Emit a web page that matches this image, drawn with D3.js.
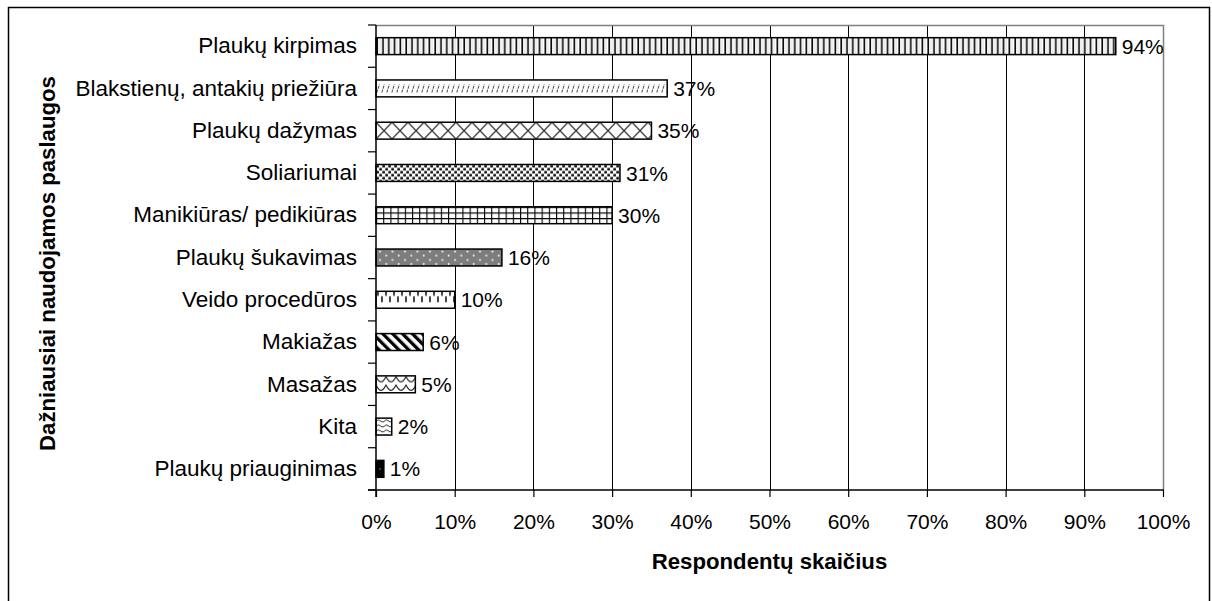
<!DOCTYPE html>
<html>
<head>
<meta charset="utf-8">
<script src="https://cdn.jsdelivr.net/npm/d3@7"></script>
<style>
  html, body { margin: 0; padding: 0; background: #fff; }
  svg { display: block; font-family: "Liberation Sans", Arial, sans-serif; }
</style>
</head>
<body>
<svg id="chart" width="1212" height="601"></svg>
<script>
// Services used most often, share of respondents (%)
const categories = [
  "Plaukų kirpimas",
  "Blakstienų, antakių priežiūra",
  "Plaukų dažymas",
  "Soliariumai",
  "Manikiūras/ pedikiūras",
  "Plaukų šukavimas",
  "Veido procedūros",
  "Makiažas",
  "Masažas",
  "Kita",
  "Plaukų priauginimas"
];
const values = [94, 37, 35, 31, 30, 16, 10, 6, 5, 2, 1];
const xTicks = [0, 10, 20, 30, 40, 50, 60, 70, 80, 90, 100];
const xTitle = "Respondentų skaičius";
const yTitle = "Dažniausiai naudojamos paslaugos";

const svg = d3.select("#chart");
const plot = { left: 376, right: 1163, top: 25, bottom: 490 };

const x = d3.scaleLinear().domain([0, 100]).range([plot.left, plot.right]);
const y = d3.scaleBand().domain(categories)
  .range([plot.top, plot.bottom]).paddingInner(0.6).paddingOuter(0.3);
const yEdge = d3.scaleLinear().domain([0, categories.length]).range([plot.top, plot.bottom]);

// Outer chart frame
svg.append("rect")
  .attr("x", 8.5).attr("y", 7.5).attr("width", 1201).attr("height", 610)
  .attr("fill", "#fff").attr("stroke", "#000").attr("stroke-width", 1.5);

// ---- fill patterns, one per bar ----
const defs = svg.append("defs");
function pat(id, w, h, bx, by) {
  return defs.append("pattern").attr("id", id)
    .attr("patternUnits", "userSpaceOnUse")
    .attr("x", bx).attr("y", by).attr("width", w).attr("height", h);
}
const bh = y.bandwidth();
const makers = [
  // narrow vertical lines
  (id, bx, by) => {
    const p = pat(id, 5.8, 6, bx, by);
    p.append("rect").attr("width", 5.8).attr("height", 6).attr("fill", "#fff");
    p.append("rect").attr("x", 0.4).attr("width", 1.6).attr("height", 6).attr("fill", "#000");
    p.append("rect").attr("x", 3.6).attr("width", 0.6).attr("height", 6).attr("fill", "#c8c8c8");
  },
  // light dashed upward diagonal
  (id, bx, by) => {
    const p = pat(id, 5, bh, bx, by);
    p.append("rect").attr("width", 5).attr("height", bh).attr("fill", "#fff");
    p.append("line").attr("x1", 0.8).attr("y1", bh * 0.74).attr("x2", 3.4).attr("y2", bh * 0.26)
      .attr("stroke", "#555").attr("stroke-width", 1.1).attr("stroke-dasharray", "3,1");
  },
  // diagonal lattice
  (id, bx, by) => {
    const p = pat(id, 16, bh, bx, by);
    p.append("rect").attr("width", 16).attr("height", bh).attr("fill", "#fff");
    p.append("path").attr("d", `M0,0 L16,${bh} M16,0 L0,${bh}`)
      .attr("stroke", "#333").attr("stroke-width", 1.2).attr("fill", "none");
  },
  // confetti squares
  (id, bx, by) => {
    const p = pat(id, 6, 6, bx, by);
    p.append("rect").attr("width", 6).attr("height", 6).attr("fill", "#fff");
    p.append("rect").attr("x", 0.3).attr("y", 0.5).attr("width", 2.6).attr("height", 2.4).attr("fill", "#000");
    p.append("rect").attr("x", 3.3).attr("y", 3.5).attr("width", 2.6).attr("height", 2.4).attr("fill", "#000");
  },
  // small grid
  (id, bx, by) => {
    const p = pat(id, 7.2, bh / 3, bx, by);
    p.append("rect").attr("width", 7.2).attr("height", bh / 3).attr("fill", "#fff");
    p.append("path").attr("d", `M0.5,0 V${bh / 3} M0,0.5 H7.2`)
      .attr("stroke", "#000").attr("stroke-width", 1.2).attr("fill", "none");
  },
  // grey with white crosses
  (id, bx, by) => {
    const p = pat(id, 12.5, bh / 2, bx, by);
    p.append("rect").attr("width", 12.5).attr("height", bh / 2).attr("fill", "#7d7d7d");
    p.append("path").attr("d", "M3,2.5 h2 M4,1.5 v2 M9.25,6.5 h2 M10.25,5.5 v2")
      .attr("stroke", "#fff").attr("stroke-width", 0.9);
  },
  // dashed vertical
  (id, bx, by) => {
    const p = pat(id, 8, bh, bx, by);
    p.append("rect").attr("width", 8).attr("height", bh).attr("fill", "#fff");
    p.append("path").attr("d", `M2,0 V4.5 M6,5 V11`)
      .attr("stroke", "#000").attr("stroke-width", 1.4);
  },
  // wide downward diagonal
  (id, bx, by) => {
    const p = pat(id, 7, 7, bx, by).attr("patternTransform", "rotate(-45)");
    p.append("rect").attr("width", 7).attr("height", 7).attr("fill", "#fff");
    p.append("rect").attr("width", 3.3).attr("height", 7).attr("fill", "#000");
  },
  // scales
  (id, bx, by) => {
    const p = pat(id, 10, bh / 2, bx, by);
    p.append("rect").attr("width", 10).attr("height", bh / 2).attr("fill", "#fff");
    p.append("path").attr("d", `M0,0.5 Q5,${bh / 2 + 3} 10,0.5`)
      .attr("stroke", "#222").attr("stroke-width", 1.1).attr("fill", "none");
  },
  // wave
  (id, bx, by) => {
    const p = pat(id, 8, 5, bx, by);
    p.append("rect").attr("width", 8).attr("height", 5).attr("fill", "#fff");
    p.append("path").attr("d", "M0,3.5 Q2,0.5 4,2.5 T8,3.5")
      .attr("stroke", "#333").attr("stroke-width", 1).attr("fill", "none");
  },
  // solid dark with a fine dot
  (id, bx, by) => {
    const p = pat(id, 8, bh, bx, by);
    p.append("rect").attr("width", 8).attr("height", bh).attr("fill", "#000");
    p.append("rect").attr("x", 3.5).attr("y", bh / 2 - 0.5).attr("width", 1.2).attr("height", 1.2).attr("fill", "#bbb");
  }
];
categories.forEach((c, i) => makers[i]("p" + i, x(0), y(c)));

// ---- gridlines ----
svg.append("g").selectAll("line")
  .data(xTicks.filter(t => t > 0 && t < 100))
  .join("line")
  .attr("x1", d => Math.round(x(d)) + 0.5).attr("x2", d => Math.round(x(d)) + 0.5)
  .attr("y1", plot.top).attr("y2", plot.bottom)
  .attr("stroke", "#000").attr("stroke-width", 1);

// plot area border (top and right)
svg.append("path")
  .attr("d", `M${plot.left},${plot.top + 0.5} H${plot.right + 0.5} V${plot.bottom}`)
  .attr("fill", "none").attr("stroke", "#808080").attr("stroke-width", 1.5);

// ---- bars ----
svg.append("g").selectAll("rect")
  .data(categories)
  .join("rect")
  .attr("x", x(0))
  .attr("y", d => y(d))
  .attr("width", (d, i) => x(values[i]) - x(0))
  .attr("height", y.bandwidth())
  .attr("fill", (d, i) => `url(#p${i})`)
  .attr("stroke", "#000").attr("stroke-width", 1.5);

// value labels
svg.append("g").selectAll("text")
  .data(categories)
  .join("text")
  .attr("x", (d, i) => x(values[i]) + 6)
  .attr("y", d => y(d) + y.bandwidth() / 2)
  .attr("dy", "0.36em")
  .attr("font-size", 21)
  .attr("fill", "#000")
  .text((d, i) => values[i] + "%");

// ---- axes ----
const xAxis = svg.append("g")
  .attr("transform", `translate(0,${plot.bottom})`)
  .call(d3.axisBottom(x).tickValues(xTicks).tickSize(7).tickPadding(17)
    .tickFormat(d => d + "%"));
xAxis.select(".domain").remove();
xAxis.selectAll("line").attr("stroke", "#000").attr("stroke-width", 1.2);
xAxis.selectAll("text").attr("font-size", 21).attr("font-family", "Liberation Sans, Arial, sans-serif").attr("fill", "#000");
svg.append("line")
  .attr("x1", plot.left - 8).attr("x2", plot.right + 1)
  .attr("y1", plot.bottom).attr("y2", plot.bottom)
  .attr("stroke", "#000").attr("stroke-width", 1.5);

const yAxis = svg.append("g")
  .attr("transform", `translate(${plot.left},0)`)
  .call(d3.axisLeft(y).tickSize(0).tickPadding(19));
yAxis.select(".domain").remove();
yAxis.selectAll("text").attr("font-size", 22.5).attr("font-family", "Liberation Sans, Arial, sans-serif").attr("fill", "#000");

// tick marks between categories
svg.append("g").selectAll("line")
  .data(d3.range(categories.length + 1))
  .join("line")
  .attr("x1", plot.left - 8).attr("x2", plot.left)
  .attr("y1", d => yEdge(d)).attr("y2", d => yEdge(d))
  .attr("stroke", "#000").attr("stroke-width", 1.2);
svg.append("line")
  .attr("x1", plot.left).attr("x2", plot.left)
  .attr("y1", plot.top).attr("y2", plot.bottom + 7)
  .attr("stroke", "#000").attr("stroke-width", 1.5);

// axis titles
svg.append("text")
  .attr("x", (plot.left + plot.right) / 2).attr("y", 569)
  .attr("text-anchor", "middle").attr("font-weight", "bold").attr("font-size", 22.2)
  .text(xTitle);
svg.append("text")
  .attr("transform", `translate(55,${(plot.top + plot.bottom) / 2 + 6}) rotate(-90)`)
  .attr("text-anchor", "middle").attr("font-weight", "bold").attr("font-size", 22.2)
  .text(yTitle);
</script>
</body>
</html>
